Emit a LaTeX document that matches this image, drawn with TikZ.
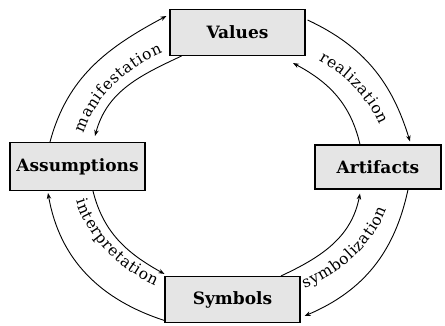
\documentclass[tikz,border=0pt]{standalone}
\usepackage{fontspec}
\setmainfont{DejaVu Serif}
\usetikzlibrary{arrows.meta,decorations.text}
\newcommand\lblfont{\fontsize{15.5}{16}\selectfont}
\newcommand\lsp{\kern0.7pt}
\begin{document}
\begin{tikzpicture}[x=1pt,y=1pt,
  box/.style={draw=black, line width=1.1pt, fill=gray!20, minimum width=135pt,
    minimum height=46pt, inner sep=0pt, font=\fontsize{17}{17}\selectfont\bfseries},
  link/.style={line width=0.9pt, -{Stealth[length=6pt,width=4.5pt]}},
  lbl/.style={decorate, decoration={text along path, text align=center, text={|\lblfont|#1}}}
]
\useasboundingbox (0,0) rectangle (445,325);
\coordinate (O) at (233,158);
\node[box] (V) at (237.5,292.5) {Values};
\node[box, minimum height=48pt] (A) at (77.5,158.5) {Assumptions};
\node[box, minimum width=126pt, minimum height=44pt] (R) at (378,158) {Artifacts};
\node[box] (S) at (232.5,25.5) {Symbols};
% manifestation
\draw[link] ([xshift=-27.5pt]A.north) to[out=75,in=208] ([xshift=-3pt,yshift=16.5pt]V.west);
\draw[link] ([xshift=12pt]V.south west) to[out=205,in=75] ([xshift=17.5pt,yshift=6pt]A.north);
% realization
\draw[link] ([xshift=2pt,yshift=12.5pt]V.east) to[out=-25,in=107] ([xshift=32pt,yshift=3pt]R.north);
\draw[link] ([xshift=-18pt]R.north) to[out=103,in=-28] ([xshift=55.5pt,yshift=-7pt]V.south);
% symbolization
\draw[link] ([xshift=30pt]R.south) to[out=258,in=23] ([xshift=4pt,yshift=-16.5pt]S.east);
\draw[link] ([xshift=48.5pt]S.north) to[out=25,in=259] ([xshift=-18pt,yshift=-4pt]R.south);
% interpretation
\draw[link] ([yshift=-21pt]S.west) to[out=162,in=280] ([xshift=-29.5pt,yshift=-2pt]A.south);
\draw[link] ([xshift=15.5pt]A.south) to[out=-76,in=151] ([yshift=2pt]S.north west);
% labels
\path[lbl={m{\lsp}a{\lsp}n{\lsp}i{\lsp}f{\lsp}e{\lsp}s{\lsp}t{\lsp}a{\lsp}t{\lsp}i{\lsp}o{\lsp}n}]
  ([shift={(180:155 and 128)}]O) arc[start angle=180, end angle=104, x radius=155, y radius=128];
\path[lbl={r{\lsp}e{\lsp}a{\lsp}l{\lsp}i{\lsp}z{\lsp}a{\lsp}t{\lsp}i{\lsp}o{\lsp}n}]
  ([shift={(78:155 and 128)}]O) arc[start angle=78, end angle=-6, x radius=155, y radius=128];
\path[lbl={s{\lsp}y{\lsp}m{\lsp}b{\lsp}o{\lsp}l{\lsp}i{\lsp}z{\lsp}a{\lsp}t{\lsp}i{\lsp}o{\lsp}n}]
  ([shift={(-86:162 and 135)}]O) arc[start angle=-86, end angle=8, x radius=162, y radius=135];
\path[lbl={i{\lsp}n{\lsp}t{\lsp}e{\lsp}r{\lsp}p{\lsp}r{\lsp}e{\lsp}t{\lsp}a{\lsp}t{\lsp}i{\lsp}o{\lsp}n}]
  ([shift={(-190:162 and 135)}]O) arc[start angle=-190, end angle=-98, x radius=162, y radius=135];
\end{tikzpicture}
\end{document}
